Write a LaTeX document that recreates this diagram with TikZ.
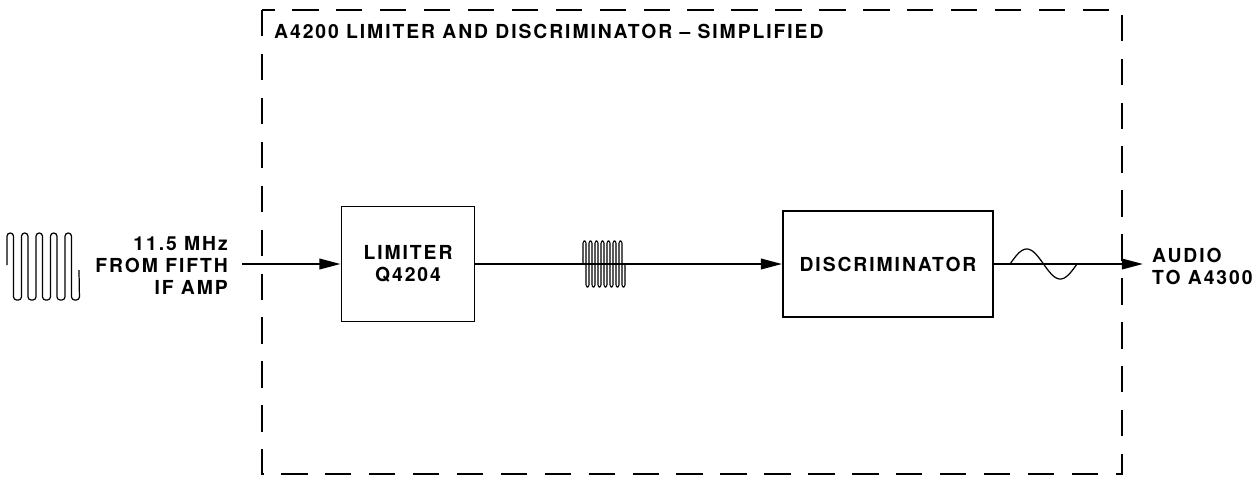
\documentclass[tikz,border=0pt]{standalone}
\usepackage{fontspec}
\setmainfont{TeX Gyre Heros}[LetterSpace=10]
\usepackage{tikz}
\usetikzlibrary{arrows.meta,positioning}

\begin{document}
\begin{tikzpicture}[x=0.02cm,y=-0.02cm,
    font=\fontsize{11}{12.5}\selectfont\bfseries,
    block/.style={draw,line width=1.1pt,rectangle,align=center},
    sig/.style={line width=1.1pt,-{Triangle[length=12pt,width=6pt]}},
    wave/.style={line width=0.7pt,line join=round},
    frame/.style={line width=1pt,dash pattern=on 15pt off 10pt}]
    \useasboundingbox (0,0) rectangle (1254,484);

    % Dashed module outline
    \draw[frame] (262,10) rectangle (1122,474);
    \node[anchor=west] (title) at (268,31) {A4200 LIMITER AND DISCRIMINATOR -- SIMPLIFIED};

    % Blocks
    \node[block,minimum width=2.66cm,minimum height=2.3cm] (lim) at (408,264) {LIMITER\\Q4204};
    \node[block,minimum width=4.2cm,minimum height=2.12cm] (disc) at (888,264) {DISCRIMINATOR};

    % Signal path
    \coordinate (in) at (242,264);
    \coordinate (out) at (1143,264);
    \draw[sig] (in) -- (lim.west);
    \draw[sig] (lim.east) -- (disc.west);
    \draw[sig] (disc.east) -- (out);

    \node[anchor=east,align=right] (src) at (234,265) {11.5 MHz\\FROM FIFTH\\IF AMP};
    \node[anchor=west,align=left] (dst) at (1146,266) {AUDIO\\TO A4300};

    % Waveforms
    \draw[wave,rounded corners=1.8pt] (7,265)
        foreach \i in {0,...,4} {
            -- ({7+14.5*\i},233) -- ({13.5+14.5*\i},233) -- ({13.5+14.5*\i},300) -- ({21.5+14.5*\i},300)
        } -- (79,270);
    \draw[wave,line width=0.6pt,rounded corners=1.2pt] (583,264)
        foreach \i in {0,...,6} {
            -- ({583+6*\i},241) -- ({586+6*\i},241) -- ({586+6*\i},287) -- ({589+6*\i},287)
        } -- (625,264);
    \draw[wave] plot[domain=0:360,samples=60,smooth] ({1010+\x/360*67},{264-15*sin(\x)});
\end{tikzpicture}
\end{document}
